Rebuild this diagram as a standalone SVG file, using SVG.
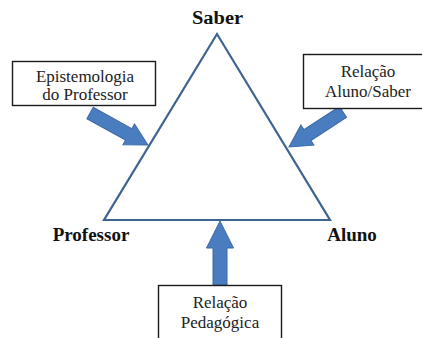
<svg xmlns="http://www.w3.org/2000/svg" width="422" height="338" viewBox="0 0 422 338">
  <style>
    text { font-family: "Liberation Serif", "DejaVu Serif", "Times New Roman", serif; }
    .vertex { font-weight: bold; fill: #111; text-anchor: middle; }
    .boxtext { font-size: 17px; fill: #222; text-anchor: middle; }
    .box { fill: #ffffff; stroke: #1a1a1a; stroke-width: 1.4; }
    .edge { fill: none; stroke: #3d6391; stroke-width: 2.2; stroke-linejoin: miter; }
    .arrow { fill: #4a7dc0; stroke: #3b6aa6; stroke-width: 1; }
  </style>
  <rect width="422" height="338" fill="#ffffff"/>

  <g id="connectors">
    <polygon class="edge" points="217,34 104,220 330,220"/>
    <path class="arrow" transform="translate(90,113) rotate(28.9)" d="M0,-6.5 L44.2,-6.5 L44.2,-12 L66.2,0 L44.2,12 L44.2,6.5 L0,6.5 Z"/>
    <path class="arrow" transform="translate(343,112) rotate(147.05)" d="M0,-6.5 L42.4,-6.5 L42.4,-12 L64.4,0 L42.4,12 L42.4,6.5 L0,6.5 Z"/>
    <polygon class="arrow" points="213,285 213,248 206.5,248 220,221 233.5,248 227,248 227,285"/>
  </g>

  <g id="saber">
    <text class="vertex" x="217.5" y="24" font-size="18" font-family="Liberation Serif, serif" textLength="51" lengthAdjust="spacingAndGlyphs">Saber</text>
  </g>
  <g id="professor">
    <text class="vertex" x="91" y="241" font-size="19" font-family="Liberation Serif, serif">Professor</text>
  </g>
  <g id="aluno">
    <text class="vertex" x="352" y="241" font-size="19" font-family="Liberation Serif, serif">Aluno</text>
  </g>

  <g id="epistemologia">
    <rect class="box" x="12.5" y="61.5" width="143" height="44"/>
    <text class="boxtext" x="85" y="82" font-family="Liberation Serif, serif">Epistemologia</text>
    <text class="boxtext" x="85" y="100" font-family="Liberation Serif, serif">do Professor</text>
  </g>
  <g id="relacao-aluno-saber">
    <rect class="box" x="303.5" y="54.5" width="122" height="54"/>
    <text class="boxtext" x="368" y="77" font-family="Liberation Serif, serif">Relação</text>
    <text class="boxtext" x="368" y="97" font-family="Liberation Serif, serif">Aluno/Saber</text>
  </g>
  <g id="relacao-pedagogica">
    <rect class="box" x="158.5" y="285.5" width="123" height="60"/>
    <text class="boxtext" x="220" y="308" font-family="Liberation Serif, serif">Relação</text>
    <text class="boxtext" x="220" y="328" font-family="Liberation Serif, serif">Pedagógica</text>
  </g>
</svg>
